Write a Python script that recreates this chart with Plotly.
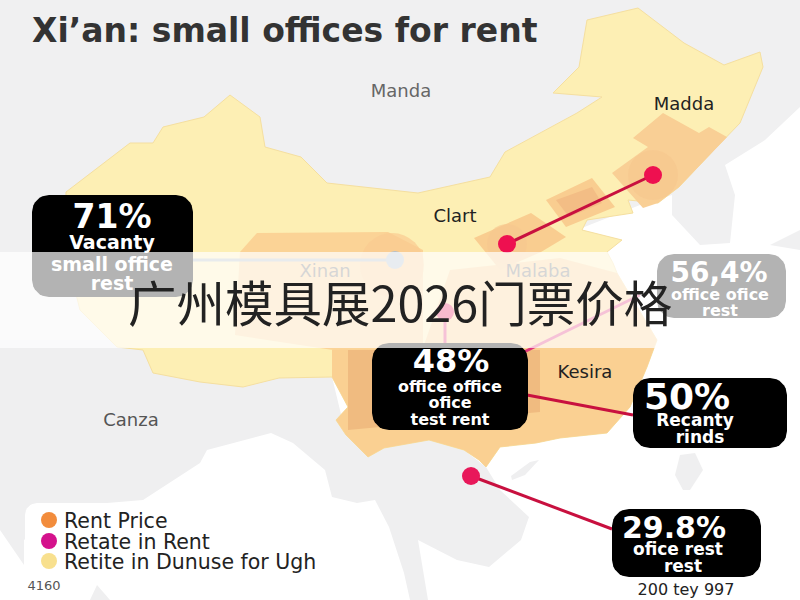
import math
import plotly.graph_objects as go

title = "Xi’an: small offices for rent"
banner = "广州模具展2026门票价格"

# outlines
china_x = [66, 130, 153, 163, 204, 230, 260, 265, 301, 327, 418, 490, 505, 577, 602, 553, 579, 587, 638, 684, 724, 760, 763, 740, 714, 679, 658, 628, 633, 587, 582, 622, 607, 613, 617, 657, 647, 630, 607, 560, 536, 500, 486, 479, 464, 429, 384, 368, 346, 336, 348, 332, 279, 243, 200, 153, 143, 117, 80, 65]
china_y = [192, 143, 143, 127, 117, 95, 117, 147, 157, 183, 193, 177, 152, 113, 97, 93, 67, 20, 8, 43, 65, 52, 67, 123, 150, 187, 203, 200, 213, 220, 230, 240, 252, 263, 273, 340, 367, 407, 433, 438, 443, 447, 467, 460, 450, 440, 448, 457, 435, 420, 407, 377, 378, 387, 382, 373, 350, 347, 310, 250]
north_x = [0, 800, 800, 765, 725, 735, 730, 700, 672, 672, 640, 400, 143, 0]
north_y = [0, 0, 107, 140, 165, 195, 243, 245, 215, 195, 205, 300, 350, 400]
south_x = [0, 143, 332, 346, 368, 384, 429, 464, 486, 500, 529, 521, 489, 457, 418, 428, 410, 404, 389, 375, 357, 332, 325, 293, 271, 207, 200, 143, 107, 60, 24, 24, 0]
south_y = [340, 340, 377, 435, 457, 448, 440, 450, 467, 490, 517, 540, 567, 560, 540, 600, 600, 573, 527, 500, 503, 497, 470, 443, 433, 450, 463, 500, 503, 510, 540, 565, 530]
japan_x = [770, 800, 800]
japan_y = [245, 230, 250]
taiwan_x = [680, 695, 703, 690, 683, 675]
taiwan_y = [455, 453, 470, 490, 490, 475]
hainan_x = [511, 530, 539, 525, 512]
hainan_y = [476, 462, 460, 475, 480]
spit_x = [90, 97, 110]
spit_y = [600, 585, 600]

west_x = [257, 388, 423, 423, 333, 235, 240]
west_y = [233, 232, 250, 350, 350, 335, 252]
south_zone_x = [332, 332, 348, 336, 346, 368, 384, 429, 464, 479, 486, 500, 536, 560, 607, 630, 647, 657, 617, 560, 450, 423]
south_zone_y = [350, 377, 407, 420, 435, 457, 448, 440, 450, 460, 467, 447, 443, 438, 433, 407, 367, 340, 273, 258, 270, 348]
centre_x = [348, 540, 540, 348]
centre_y = [350, 350, 412, 430]
hub_a_x = [474, 531, 566, 541, 500]
hub_a_y = [238, 213, 237, 252, 270]
hub_b_x = [546, 592, 615, 566]
hub_b_y = [200, 178, 207, 227]
hub_b2_x = [556, 592, 602, 569]
hub_b2_y = [200, 187, 203, 217]
hub_c_x = [633, 663, 699, 709, 727, 679, 658, 643, 612, 648]
hub_c_y = [138, 113, 133, 127, 137, 187, 203, 208, 173, 147]
halo_x = [392, 507, 653]
halo_y = [265, 244, 175]
halo_sizes = [64, 40, 50]
halo_colours = ["#f9cb90", "#f7c78f", "#f7c78f"]

# callouts
callout_values = ["71%", "48%", "50%", "56,4%", "29.8%"]
callout_lines = [
    ["Vacanty", "small office", "rest"],
    ["office office", "ofice", "test rent"],
    ["Recanty", "rinds"],
    ["office ofice", "rest"],
    ["ofice rest", "rest"],
]
boxes = [(32, 195, 193, 297), (372, 343, 528, 430), (633, 378, 787, 448), (657, 254, 786, 318), (612, 509, 761, 577)]
value_sizes = [33, 32, 36, 28, 30]
line_sizes = [19, 16, 17, 16, 17]
value_x = [112, 451, 687, 719, 674]
value_y = [216, 360, 396, 272, 527]
line_x = [[112, 112, 112], [450, 450, 450], [695, 700], [720, 720], [678, 683]]
line_y = [[242, 264, 283], [386, 402, 419], [420, 437], [294, 310], [549, 566]]

# connector lines and their dots
link_x = [[507, 653], [527, 633], [471, 612], [445, 445], [524, 640], [175, 395]]
link_y = [[244, 175], [395, 415], [476, 529], [345, 312], [352, 295], [260, 260]]
link_colours = ["#c8103f", "#c8103f", "#c8103f", "#e0357a", "#e0357a", "#b3bcc4"]
dot_x = [507, 653, 471, 445, 395]
dot_y = [244, 175, 476, 312, 260]
dot_colours = ["#ee1050", "#ee1050", "#e8185a", "#e8185a", "#b3c0cc"]

place_names = ["Manda", "Madda", "Clart", "Xinan", "Malaba", "Kesira", "Canza"]
place_x = [401, 684, 455, 325, 538, 585, 131]
place_y = [90, 103, 215, 270, 270, 371, 419]
place_colours = ["#666666", "#222222", "#222222", "#777777", "#777777", "#222222", "#555555"]

legend_labels = ["Rent Price", "Retate in Rent", "Retite in Dunuse for Ugh"]
legend_colours = ["#f28c3c", "#d4128c", "#f8e08e"]
legend_y = [520, 541, 561]


def poly(x, y, colour, edge=None):
    return go.Scatter(x=x + x[:1], y=y + y[:1], mode="lines", fill="toself", fillcolor=colour,
                      line=dict(width=1 if edge else 0, color=edge), hoverinfo="skip", showlegend=False)


def rounded(box, r=17):
    x0, y0, x1, y1 = box
    xs, ys = [], []
    corners = [(x1 - r, y0 + r, -90), (x1 - r, y1 - r, 0), (x0 + r, y1 - r, 90), (x0 + r, y0 + r, 180)]
    for cx, cy, start in corners:
        for step in range(9):
            a = math.radians(start + step * 90 / 8)
            xs.append(cx + r * math.cos(a))
            ys.append(cy + r * math.sin(a))
    return xs + xs[:1], ys + ys[:1]


def dots(x, y, colours, sizes):
    return go.Scatter(x=x, y=y, mode="markers", marker=dict(color=colours, size=sizes, line=dict(width=0)),
                      hoverinfo="skip", showlegend=False)


def text(x, y, s, size, colour, bold=False, pos="middle center", family="DejaVu Sans"):
    return go.Scatter(x=[x], y=[y + size * 0.12], mode="text", text=["<b>%s</b>" % s if bold else s], textposition=pos,
                      textfont=dict(family=family, size=size, color=colour), hoverinfo="skip", showlegend=False)


fig = go.Figure()
fig.add_trace(poly(north_x, north_y, "#f0f0f1"))
fig.add_trace(poly(south_x, south_y, "#efeff0"))
fig.add_trace(poly(japan_x, japan_y, "#f0f0f1"))
fig.add_trace(poly(taiwan_x, taiwan_y, "#efeff0"))
fig.add_trace(poly(hainan_x, hainan_y, "#efeff0"))
fig.add_trace(poly(spit_x, spit_y, "#efeff0"))
fig.add_trace(poly(china_x, china_y, "#fdefb4", "#f5dfa0"))
fig.add_trace(poly(west_x, west_y, "#fbd396"))
fig.add_trace(poly(south_zone_x, south_zone_y, "#fad092"))
fig.add_trace(poly(centre_x, centre_y, "#f0bb80"))
fig.add_trace(poly(hub_a_x, hub_a_y, "#f9cd90"))
fig.add_trace(poly(hub_b_x, hub_b_y, "#f9cd90"))
fig.add_trace(poly(hub_b2_x, hub_b2_y, "#f3bd85"))
fig.add_trace(poly(hub_c_x, hub_c_y, "#f9cf95"))
fig.add_trace(dots(halo_x, halo_y, halo_colours, halo_sizes))

for xs, ys, c in zip(link_x, link_y, link_colours):
    fig.add_trace(go.Scatter(x=xs, y=ys, mode="lines", line=dict(color=c, width=3), hoverinfo="skip", showlegend=False))
fig.add_trace(dots(dot_x, dot_y, dot_colours, 18))

for name, x, y, c in zip(place_names, place_x, place_y, place_colours):
    fig.add_trace(text(x, y, name, 18, c))

for i, box in enumerate(boxes):
    bx, by = rounded(box)
    fig.add_trace(go.Scatter(x=bx, y=by, mode="lines", fill="toself", fillcolor="#000000",
                             line=dict(width=0, color="#000000"), hoverinfo="skip", showlegend=False))
    fig.add_trace(text(value_x[i], value_y[i], callout_values[i], value_sizes[i], "#ffffff", True))
    for s, x, y in zip(callout_lines[i], line_x[i], line_y[i]):
        fig.add_trace(text(x, y, s, line_sizes[i], "#ffffff", True))

lx, ly = rounded((25, 503, 325, 575), 12)
fig.add_trace(go.Scatter(x=lx, y=ly, mode="lines", fill="toself", fillcolor="#ffffff", line=dict(width=0),
                         hoverinfo="skip", showlegend=False))
fig.add_trace(dots([49] * 3, legend_y, legend_colours, 16))
for s, y in zip(legend_labels, legend_y):
    fig.add_trace(text(64, y, s, 20.5, "#222222", pos="middle right"))
fig.add_trace(text(44, 585, "4160", 13, "#555555"))
fig.add_trace(text(686, 589, "200 tey 997", 16, "#222222"))
fig.add_trace(text(32, 30, title, 33, "#333333", True, pos="middle right"))

fig.update_layout(
    width=800, height=600, margin=dict(l=0, r=0, t=0, b=0), paper_bgcolor="#ffffff", plot_bgcolor="#ffffff",
    xaxis=dict(range=[0, 800], visible=False, fixedrange=True),
    yaxis=dict(range=[600, 0], visible=False, fixedrange=True),
    shapes=[dict(type="rect", xref="paper", yref="y", x0=0, x1=1, y0=252, y1=348, layer="above",
                 fillcolor="rgba(255,255,255,0.7)", line=dict(width=0))],
    annotations=[dict(x=400, y=301, xref="x", yref="y", text=banner, showarrow=False,
                      font=dict(family="Noto Sans CJK SC", size=48.5, color="#222222"))],
)
fig.write_html("out.html", config=dict(displayModeBar=False), post_script="document.body.style.margin = '0';")
